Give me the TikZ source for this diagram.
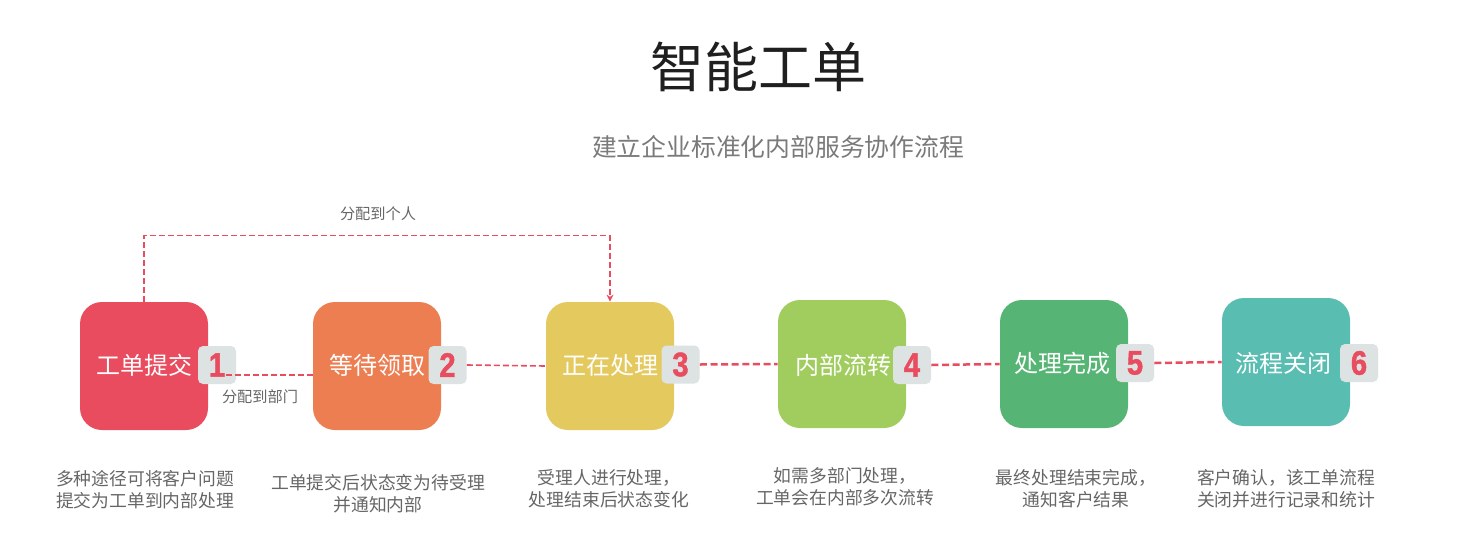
\documentclass[tikz,border=0pt]{standalone}
\usepackage{fontspec}
\setmainfont{Noto Sans CJK SC}
\newfontfamily\numfont[FakeStretch=0.86,BoldFeatures={FakeBold=1.2}]{Liberation Sans}
\usetikzlibrary{arrows.meta}
\definecolor{stepred}{HTML}{E84C5E}
\definecolor{steporange}{HTML}{EC7E52}
\definecolor{stepyellow}{HTML}{E4C95E}
\definecolor{steplime}{HTML}{A0CD5D}
\definecolor{stepgreen}{HTML}{56B574}
\definecolor{stepteal}{HTML}{59BDB2}
\definecolor{badgegray}{HTML}{DDE2E2}
\definecolor{descgray}{HTML}{666666}
\definecolor{subgray}{HTML}{7A7A7A}
\begin{document}
\begin{tikzpicture}[x=0.5pt, y=-0.5pt, >={Stealth[length=3.5pt,width=3.5pt]},
  stepbox/.style={rounded corners=11pt, minimum width=64pt, minimum height=64pt, inner sep=0pt},
  badge/.style={fill=badgegray, rounded corners=2.5pt, minimum width=19pt, minimum height=19pt, inner sep=0pt,
    text=stepred, font=\numfont\bfseries\fontsize{17}{17}\selectfont},
  boxtext/.style={text=white, inner sep=0pt, font=\fontsize{12}{12}\selectfont},
  desc/.style={text=descgray, align=center, inner sep=0pt, font=\fontsize{8.9}{11}\selectfont},
  hint/.style={text=descgray, inner sep=0pt, font=\fontsize{7.6}{7.6}\selectfont},
  thinflow/.style={draw=stepred, dash pattern=on 3pt off 1.5pt, line width=0.8pt},
  flow/.style={draw=stepred, dash pattern=on 3.5pt off 1.8pt, line width=1.25pt}]
  \useasboundingbox (0,0) rectangle (1468,552);

  % 1. 标题
  \node[text=black!88, font=\fontsize{27}{27}\selectfont] (title) at (758,67) {智能工单};
  \node[text=subgray, font=\fontsize{12.4}{12.4}\selectfont] (subtitle) at (778,147) {建立企业标准化内部服务协作流程};

  % 2. 步骤方块
  \node[stepbox, fill=stepred] (box1) at (144,366) {};
  \node[stepbox, fill=steporange] (box2) at (377,366) {};
  \node[stepbox, fill=stepyellow] (box3) at (610,366) {};
  \node[stepbox, fill=steplime] (box4) at (842,364) {};
  \node[stepbox, fill=stepgreen] (box5) at (1064,364) {};
  \node[stepbox, fill=stepteal] (box6) at (1286,362) {};

  \node[boxtext] (lab1) at (144,365) {工单提交};
  \node[boxtext] (lab2) at (377,365) {等待领取};
  \node[boxtext] (lab3) at (610,365) {正在处理};
  \node[boxtext] (lab4) at (843,365) {内部流转};
  \node[boxtext] (lab5) at (1062,363) {处理完成};
  \node[boxtext] (lab6) at (1283,363) {流程关闭};

  % 3. 序号
  \node[badge] (badge1) at (217,365) {1};
  \node[badge] (badge2) at (447.5,365) {2};
  \node[badge] (badge3) at (680.5,364.5) {3};
  \node[badge] (badge4) at (912,365) {4};
  \node[badge] (badge5) at (1135,363) {5};
  \node[badge] (badge6) at (1359,363) {6};

  % 4. 虚线流向
  \draw[thinflow, ->] (box1.north) -- ++(0,-66) -| (box3.north);
  \node[hint] (toperson) at (378,214) {分配到个人};
  \draw[thinflow] ([yshift=-5pt]badge1.center) -- ([yshift=-4.5pt]box2.west);
  \node[hint] (todept) at (260,397) {分配到部门};
  \draw[thinflow] (badge2.east) -- (box3.west);
  \draw[flow] (badge3.east) -- (box4.west);
  \draw[flow] (badge4.east) -- (box5.west);
  \draw[flow] (badge5.east) -- (box6.west);

  % 5. 说明文字
  \node[desc] (desc1) at (145,490) {多种途径可将客户问题\\提交为工单到内部处理};
  \node[desc] (desc2) at (378,494) {工单提交后状态变为待受理\\并通知内部};
  \node[desc] (desc3) at (609,489) {受理人进行处理，\\处理结束后状态变化};
  \node[desc] (desc4) at (845,487) {如需多部门处理，\\工单会在内部多次流转};
  \node[desc] (desc5) at (1076,489) {最终处理结束完成，\\通知客户结果};
  \node[desc] (desc6) at (1286,489) {客户确认，该工单流程\\关闭并进行记录和统计};
\end{tikzpicture}
\end{document}
